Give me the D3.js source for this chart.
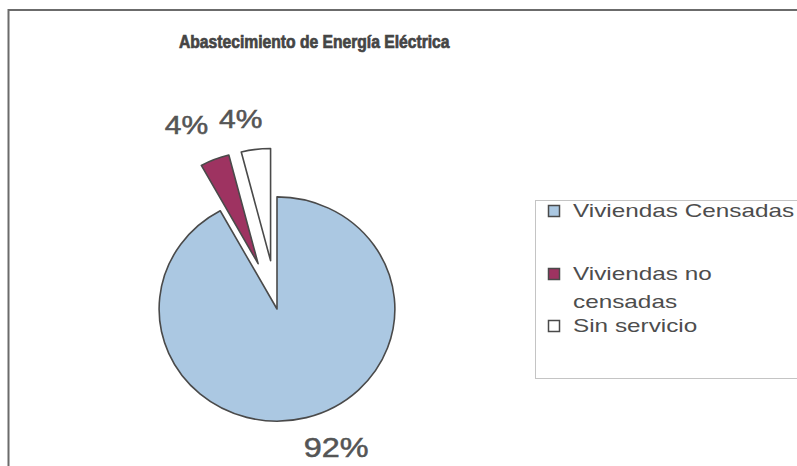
<!DOCTYPE html>
<html>
<head>
<meta charset="utf-8">
<script src="https://cdn.jsdelivr.net/npm/d3@7"></script>
<style>
    body { margin: 0; background: #fff; }
    svg { display: block; }
    text { font-family: "Liberation Sans", Arial, sans-serif; }
</style>
</head>
<body>
<div id="chart"></div>
<script>
const title = 'Abastecimiento de Energía Eléctrica';
const categories = ['Viviendas Censadas', 'Viviendas no censadas', 'Sin servicio'];
const legendLines = [['Viviendas Censadas'], ['Viviendas no', 'censadas'], ['Sin servicio']];
const values = [92, 4, 4];
const valueLabels = ['92%', '4%', '4%'];
const colors = ['#abc8e2', '#9e3361', '#ffffff'];

const width = 797, height = 466;
const cx = 277, cy = 309, radius = 115;
const squash = [1.025, 0.975];
const explode = [0, 50, 50];
// label placement relative to each slice (angle shift in degrees, distance)
const labelShift = [-8.8, -6.1, -4.8];
const labelDist = [150, 155, 144];
const textStretch = 1.2;

const svg = d3.select('#chart').append('svg')
    .attr('width', width)
    .attr('height', height);

// frame (only top and left edges are visible in the picture)
svg.append('path')
    .attr('d', 'M8.5,' + height + 'V10H' + width)
    .style('fill', 'none')
    .style('stroke', '#6b6b6b')
    .style('stroke-width', 2);

svg.append('text')
    .attr('transform', 'translate(179, 48) scale(0.87, 1)')
    .style('font-size', '18px')
    .style('font-weight', 'bold')
    .style('fill', '#454545')
    .style('stroke', '#454545')
    .style('stroke-width', 0.7)
    .text(title);

const pie = d3.pie().sort(null).value(d => d)(values);
const arc = d3.arc().innerRadius(0).outerRadius(radius);

const offset = (d, i) => {
    const a = (d.startAngle + d.endAngle) / 2;
    return [Math.sin(a) * explode[i], -Math.cos(a) * explode[i]];
};

const slices = svg.append('g')
    .attr('transform', 'translate(' + cx + ', ' + cy + ')');

slices.append('g')
    .attr('transform', 'scale(' + squash + ')')
    .selectAll('path')
    .data(pie)
    .enter()
    .append('path')
        .attr('d', arc)
        .attr('transform', (d, i) => 'translate(' + offset(d, i) + ')')
        .attr('vector-effect', 'non-scaling-stroke')
        .style('fill', (d, i) => colors[i])
        .style('stroke', '#4a4a4a')
        .style('stroke-width', 1.6)
        .style('stroke-linejoin', 'round');

slices.selectAll('text')
    .data(pie)
    .enter()
    .append('text')
        .attr('transform', (d, i) => {
            const o = offset(d, i);
            const a = (d.startAngle + d.endAngle) / 2 + labelShift[i] * Math.PI / 180;
            const x = o[0] + Math.sin(a) * labelDist[i];
            const y = o[1] - Math.cos(a) * labelDist[i];
            return 'translate(' + x + ', ' + y + ') scale(' + textStretch + ', 1)';
        })
        .attr('text-anchor', 'middle')
        .attr('dy', '0.36em')
        .style('font-size', (d, i) => i === 0 ? '27px' : '25px')
        .style('fill', '#555')
        .style('stroke', '#555')
        .style('stroke-width', 0.5)
        .text((d, i) => valueLabels[i]);

// legend
const legend = svg.append('g');

legend.append('rect')
    .attr('x', 535.5)
    .attr('y', 200.5)
    .attr('width', 300)
    .attr('height', 178)
    .style('fill', 'none')
    .style('stroke', '#c4c4c4');

const rowY = [217, 280, 332];

const item = legend.selectAll('g.item')
    .data(categories)
    .enter()
    .append('g')
        .attr('class', 'item')
        .attr('transform', (d, i) => 'translate(548, ' + rowY[i] + ')');

item.append('rect')
    .attr('x', 0.5)
    .attr('y', -11.5)
    .attr('width', 11)
    .attr('height', 11)
    .style('fill', (d, i) => colors[i])
    .style('stroke', '#4a4a4a')
    .style('stroke-width', 1.5);

item.each(function(d, i) {
    d3.select(this).selectAll('text')
        .data(legendLines[i])
        .enter()
        .append('text')
            .attr('transform', (t, j) => 'translate(25, ' + (j * 28) + ') scale(1.28, 1)')
            .style('font-size', '19px')
            .style('fill', '#4d4d4d')
            .text(t => t);
});
</script>
</body>
</html>
